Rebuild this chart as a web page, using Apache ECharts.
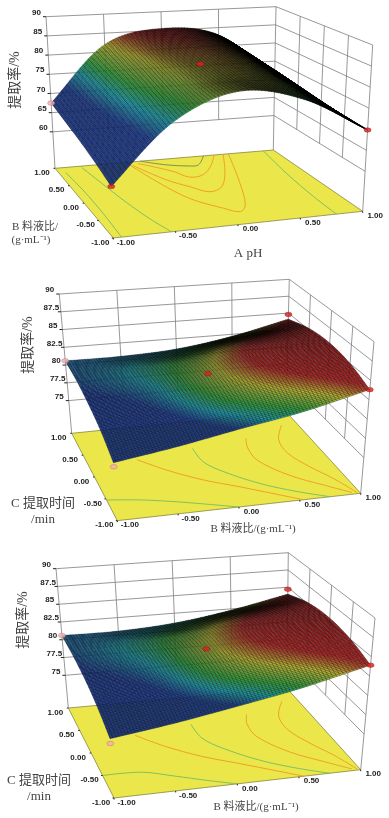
<!DOCTYPE html>
<html><head><meta charset="utf-8">
<style>html,body{margin:0;padding:0;background:#fff}#c{width:389px;height:818px;filter:blur(0.35px)}</style>
<script src="https://cdn.jsdelivr.net/npm/echarts@6/dist/echarts.min.js"></script>
</head><body><div id="c"></div>
<script>
// ---- data ----
var levels = [-1, -0.5, 0, 0.5, 1];
var floorTickLabels = ['-1.00', '-0.50', '0.00', '0.50', '1.00'];
var zTicks1 = [60, 65, 70, 75, 80, 85, 90];
var zTicks2 = [75, 77.5, 80, 82.5, 85, 87.5, 90];
var zTicks3 = [75, 77.5, 80, 82.5, 85, 87.5, 90];

// rows run from second factor = +1 (back) to -1 (front); columns from first factor = -1 to +1
var surfaceAB = [
  [67.5, 82.0, 85.5, 83.0, 71.0],
  [66.2, 80.5, 83.9, 82.0, 70.7],
  [65.0, 79.0, 82.5, 81.0, 70.5],
  [63.6, 77.0, 81.6, 79.8, 70.2],
  [62.0, 75.4, 81.2, 78.2, 69.8]
];
var surfaceBC = [
  [80.6, 80.6, 81.0, 82.2, 84.1],
  [80.4, 81.1, 82.2, 84.0, 85.2],
  [79.8, 80.7, 82.6, 84.5, 85.5],
  [78.9, 79.9, 81.9, 83.6, 85.0],
  [77.5, 78.7, 80.2, 81.7, 83.8]
];
var surfaceBC2 = [
  [80.6, 80.6, 81.1, 82.3, 84.0],
  [80.4, 81.2, 82.3, 84.0, 85.2],
  [79.9, 80.8, 82.7, 84.5, 85.5],
  [79.0, 80.0, 82.0, 83.6, 85.0],
  [77.7, 78.8, 80.2, 81.8, 83.9]
];
var pointsAB = [[-1, 1, 67.5, 0], [-1, -1, 62, 1], [1, -1, 69.8, 1], [0, 0, 82.2, 1]];
var pointsBC = [[-1, 1, 80.6, 0], [-1, -1, 77.0, 0], [1, 1, 84.8, 1], [1, -1, 83.8, 1], [0, 0, 82.65, 1]];
var pointsBC2 = [[-1, 1, 80.6, 0], [-1, -1, 77.1, 0], [1, 1, 84.7, 1], [1, -1, 83.9, 1], [0, 0, 82.7, 1]];

// contour lines on the floor as [fraction along first factor, fraction along second factor]
var contourAB = [
  {k: 0, p: [[.03, .93], [.04, .66], [.04, .33], [.033, 0]]},
  {k: 0, p: [[.117, .98], [.14, .75], [.167, .47], [.2, .2], [.234, 0]]},
  {k: 1, p: [[.33, .96], [.375, .67], [.43, .42], [.515, .245], [.563, .175], [.61, .26], [.69, .57], [.794, 1]]},
  {k: 1, p: [[.34, .95], [.416, .71], [.48, .585], [.535, .49], [.604, .546], [.68, .73], [.77, 1]]},
  {k: 1, p: [[.37, .97], [.48, .82], [.52, .72], [.585, .735], [.665, .86], [.728, 1]]},
  {k: 2, p: [[.39, 1], [.48, .92], [.57, .875], [.615, .88], [.68, 1]]},
  {k: 0, p: [[.954, 1], [.92, .65], [.90, .285], [.895, 0]]}
];
var contourBC = [
  {k: 1, p: [[.217, .64], [.314, .49], [.435, .34], [.56, .22], [.765, 0]]},
  {k: 0, p: [[.48, .70], [.485, .54], [.54, .405], [.65, .23], [.765, .10], [.875, 0]]},
  {k: 1, p: [[.735, .75], [.71, .64], [.71, .49], [.79, .285], [.887, .14], [.97, .02]]},
  {k: 1, p: [[.93, .855], [.865, .695], [.855, .535], [.897, .356], [.947, .2], [.99, .01]]},
  {k: 0, p: [[0, .237], [.135, .197], [.26, .14], [.385, .07], [.5, 0]]}
];
var contourBC2 = [
  {k: 1, p: [[.22, .64], [.315, .49], [.435, .34], [.56, .22], [.77, 0]]},
  {k: 0, p: [[.48, .70], [.485, .54], [.54, .405], [.65, .23], [.765, .10], [.875, 0]]},
  {k: 1, p: [[.74, .75], [.71, .64], [.71, .49], [.79, .285], [.887, .14], [.97, .02]]},
  {k: 1, p: [[.93, .855], [.865, .695], [.855, .535], [.897, .356], [.947, .2], [.99, .01]]},
  {k: 0, p: [[0, .25], [.16, .24], [.28, .16], [.4, .07], [.5, 0]]}
];

// ---- styling and projection set-up ----
var contourColors = ['#72bd62', '#ee9a24', '#6f8a4e'];
var rampAB = [[60, '#1b3c9a'], [71.5, '#1b3c9a'], [75, '#1aa0b4'], [78, '#2ea63c'], [82, '#c6c232'], [84.8, '#bb2222'], [87, '#8a1414']];
var rampBC = [[76, '#1b3c9a'], [80.2, '#1b3c9a'], [81, '#1aa0b4'], [81.8, '#2ea63c'], [83, '#c6c232'], [84, '#c02424'], [86, '#a81c1c']];

var panels = [
  {zFloor: 50.5, ticks: zTicks1, surface: surfaceAB, points: pointsAB, contours: contourAB, ramp: rampAB, crowdFrom: 1, crowdSpan: 2.6,
   floor: {FL: [113.3, 238], FR: [362.7, 211.3], BL: [55, 168.3], BR: [273.3, 150]},
   top: {FL: [106.3, 61.3], FR: [372.7, 45], BL: [46, 16.7], BR: [276, 6.7]}},
  {zFloor: 70.4, ticks: zTicks2, surface: surfaceBC, points: pointsBC, contours: contourBC, ramp: rampBC, crowdFrom: 0.8, crowdSpan: 1.8,
   floor: {FL: [117.3, 520.7], FR: [360.7, 493.3], BL: [71.7, 433.3], BR: [286, 411.7]},
   top: {FL: [106.7, 360.7], FR: [374, 341.7], BL: [59.3, 294], BR: [289.3, 279.3]}},
  {zFloor: 70.4, ticks: zTicks3, surface: surfaceBC2, points: pointsBC2, contours: contourBC2, ramp: rampBC, crowdFrom: 0.8, crowdSpan: 1.8,
   floor: {FL: [114, 798], FR: [360.7, 769.7], BL: [68.3, 708], BR: [286.7, 688]},
   top: {FL: [103.3, 638.7], FR: [375, 618], BL: [56, 568.7], BR: [288.3, 552.7]}}
];

var titles = [
  {t: '提取率/%', x: 15, y: 80, s: 14, r: 1},
  {t: 'B 料液比/', x: 35, y: 227, s: 11},
  {t: '(g·mL⁻¹)', x: 31, y: 240, s: 11},
  {t: 'A pH', x: 248, y: 254, s: 13},
  {t: '提取率/%', x: 28, y: 345, s: 14, r: 1},
  {t: 'C 提取时间', x: 43, y: 504, s: 13},
  {t: '/min', x: 43, y: 520, s: 13},
  {t: 'B 料液比/(g·mL⁻¹)', x: 253, y: 529, s: 11},
  {t: '提取率/%', x: 23, y: 620, s: 14, r: 1},
  {t: 'C 提取时间', x: 39, y: 781, s: 13},
  {t: '/min', x: 39, y: 797, s: 13},
  {t: 'B 料液比/(g·mL⁻¹)', x: 256, y: 807, s: 11}
];

// ---- helpers ----
function lerp(a, b, t) { return a + (b - a) * t; }
function lerp2(p, q, t) { return [lerp(p[0], q[0], t), lerp(p[1], q[1], t)]; }
function projectUV(P, u, v, w) {
  function corner(c) { return lerp2(lerp2(c.FL, c.FR, u), lerp2(c.BL, c.BR, u), v); }
  return lerp2(corner(P.floor), corner(P.top), w);
}
function project(P, a, b, z) {
  return projectUV(P, (a + 1) / 2, (b + 1) / 2, (z - P.zFloor) / (90 - P.zFloor));
}
function hex(c) { return [1, 3, 5].map(function (i) { return parseInt(c.substr(i, 2), 16); }); }
function colorOf(ramp, z, dark) {
  var rgb = hex(ramp[ramp.length - 1][1]);
  if (z <= ramp[0][0]) rgb = hex(ramp[0][1]);
  else for (var i = 1; i < ramp.length; i++) {
    if (z <= ramp[i][0]) {
      var t = (z - ramp[i - 1][0]) / (ramp[i][0] - ramp[i - 1][0]);
      var a = hex(ramp[i - 1][1]), b = hex(ramp[i][1]);
      rgb = a.map(function (x, k) { return lerp(x, b[k], t); });
      break;
    }
  }
  return 'rgb(' + rgb.map(function (x) { return Math.round(x * dark); }).join(',') + ')';
}
// smooth reading of the 5x5 table so the mesh can be drawn finely
function smooth1(vals, t) {
  var n = vals.length - 1, s = Math.min(t * n, n - 1e-9), i = Math.floor(s), f = s - i;
  var p1 = vals[i], p2 = vals[i + 1];
  var p0 = i > 0 ? vals[i - 1] : 2 * p1 - p2, p3 = i < n - 1 ? vals[i + 2] : 2 * p2 - p1;
  return 0.5 * (2 * p1 + (p2 - p0) * f + (2 * p0 - 5 * p1 + 4 * p2 - p3) * f * f + (3 * p1 - p0 - 3 * p2 + p3) * f * f * f);
}
function surfaceAt(tbl, u, v) {
  return smooth1(tbl.map(function (r) { return smooth1(r, u); }), 1 - v);
}
function quadArea(p) {
  var s = 0;
  for (var i = 0; i < 4; i++) { var q = p[(i + 1) % 4]; s += p[i][0] * q[1] - q[0] * p[i][1]; }
  return Math.abs(s) / 2;
}

var MESH = 80;
var series = [];
function addItems(items, z, render) {
  series.push({
    type: 'custom', coordinateSystem: 'cartesian2d', silent: true, animation: false, progressive: 0, clip: false, z: z,
    data: items.map(function (_, i) { return [i]; }),
    renderItem: function (params, api) { return render(items[params.dataIndex], api); }
  });
}
function toCoord(api, pts) { return pts.map(function (p) { return api.coord(p); }); }

panels.forEach(function (P) {
  var gridLines = [], edgeLines = [], labels = [];
  var zMin = P.ticks[0];
  P.ticks.forEach(function (z) {
    gridLines.push([project(P, -1, 1, z), project(P, 1, 1, z)]);
    gridLines.push([project(P, 1, 1, z), project(P, 1, -1, z)]);
    var e = project(P, -1, 1, z);
    edgeLines.push([[e[0] - 3, e[1]], e]);
    labels.push({t: String(z), x: e[0] - 9.5, y: e[1] - 4});
  });
  [-0.5, 0, 0.5].forEach(function (s) {
    gridLines.push([project(P, s, 1, zMin), project(P, s, 1, 90)]);
    gridLines.push([project(P, 1, s, zMin), project(P, 1, s, 90)]);
  });
  [[-1, 1], [1, 1], [1, -1]].forEach(function (c) {
    gridLines.push([project(P, c[0], c[1], P.zFloor), project(P, c[0], c[1], 90)]);
  });
  levels.forEach(function (s, i) {
    var q = project(P, s, -1, P.zFloor);
    edgeLines.push([q, [q[0], q[1] + 1.5]]);
    labels.push({t: floorTickLabels[i], x: q[0] + 12.5, y: q[1] + 4.5});
    var r = project(P, -1, s, P.zFloor);
    edgeLines.push([r, [r[0] - 1.5, r[1]]]);
    labels.push({t: floorTickLabels[i], x: r[0] - 13, y: r[1] + 4.5});
  });
  addItems(gridLines, 2, function (l, api) {
    var c = toCoord(api, l);
    return {type: 'line', shape: {x1: c[0][0], y1: c[0][1], x2: c[1][0], y2: c[1][1]}, style: {stroke: '#7d7d7d', lineWidth: 0.8}};
  });
  var F = P.floor;
  addItems([[F.FL, F.FR, F.BR, F.BL]], 3, function (pts, api) {
    return {type: 'polygon', shape: {points: toCoord(api, pts)}, style: {fill: '#ebe64a', stroke: '#77773a', lineWidth: 0.7}};
  });
  var contourPaths = P.contours.map(function (c) {
    return {k: c.k, p: c.p.map(function (q) { return projectUV(P, q[0], q[1], 0); })};
  });
  addItems(contourPaths, 4, function (c, api) {
    return {type: 'polyline', shape: {points: toCoord(api, c.p), smooth: 0.35}, style: {fill: null, stroke: contourColors[c.k], lineWidth: 0.9}};
  });
  addItems(edgeLines, 5, function (l, api) {
    var c = toCoord(api, l);
    return {type: 'line', shape: {x1: c[0][0], y1: c[0][1], x2: c[1][0], y2: c[1][1]}, style: {stroke: '#222', lineWidth: 1}};
  });
  var quads = [];
  for (var j = MESH - 1; j >= 0; j--) {
    for (var i = 0; i < MESH; i++) {
      var corners = [[i, j], [i + 1, j], [i + 1, j + 1], [i, j + 1]];
      var sum = 0;
      var pts = corners.map(function (g) {
        var u = g[0] / MESH, v = g[1] / MESH, z = surfaceAt(P.surface, u, v);
        sum += z;
        return projectUV(P, u, v, (z - P.zFloor) / (90 - P.zFloor));
      });
      // where the mesh is foreshortened its lines crowd together and the cell reads as black
      var area = quadArea(pts);
      var crowd = Math.max(0, Math.min(1, (area - P.crowdFrom) / P.crowdSpan));
      quads.push({p: pts, c: colorOf(P.ramp, sum / 4, 0.08 + 0.92 * crowd), a: 1 - 0.35 * crowd});
    }
  }
  addItems(quads, 6, function (q, api) {
    return {type: 'polygon', shape: {points: toCoord(api, q.p)}, style: {fill: q.c, stroke: 'rgba(0,0,0,' + q.a + ')', lineWidth: 0.45}};
  });
  series.push({
    type: 'scatter', silent: true, animation: false, z: 7, symbol: 'circle', symbolSize: [7, 4.5],
    data: P.points.map(function (d) {
      return {value: project(P, d[0], d[1], d[2]), itemStyle: {color: d[3] ? '#dd1f1f' : '#f2b0b0', borderColor: d[3] ? '#8a1515' : '#a86a6a', borderWidth: 0.5}};
    })
  });
  addItems(labels, 8, function (l, api) {
    var c = api.coord([l.x, l.y]);
    return {type: 'text', x: c[0], y: c[1], style: {text: l.t, font: 'bold 8px "Liberation Sans"', fill: '#222', align: 'center', verticalAlign: 'middle'}};
  });
});

addItems(titles, 9, function (l, api) {
  var c = api.coord([l.x, l.y]);
  return {type: 'text', x: c[0], y: c[1], rotation: l.r ? Math.PI / 2 : 0,
    style: {text: l.t, font: l.s + 'px "Liberation Serif","Noto Sans CJK SC"', fill: '#444', align: 'center', verticalAlign: 'middle'}};
});

var chart = echarts.init(document.getElementById('c'), null, {renderer: 'canvas', width: 389, height: 818});
chart.setOption({
  animation: false, backgroundColor: '#fff',
  grid: {left: 0, right: 0, top: 0, bottom: 0},
  xAxis: {type: 'value', min: 0, max: 389, show: false},
  yAxis: {type: 'value', min: 0, max: 818, inverse: true, show: false},
  series: series
});
</script></body></html>
